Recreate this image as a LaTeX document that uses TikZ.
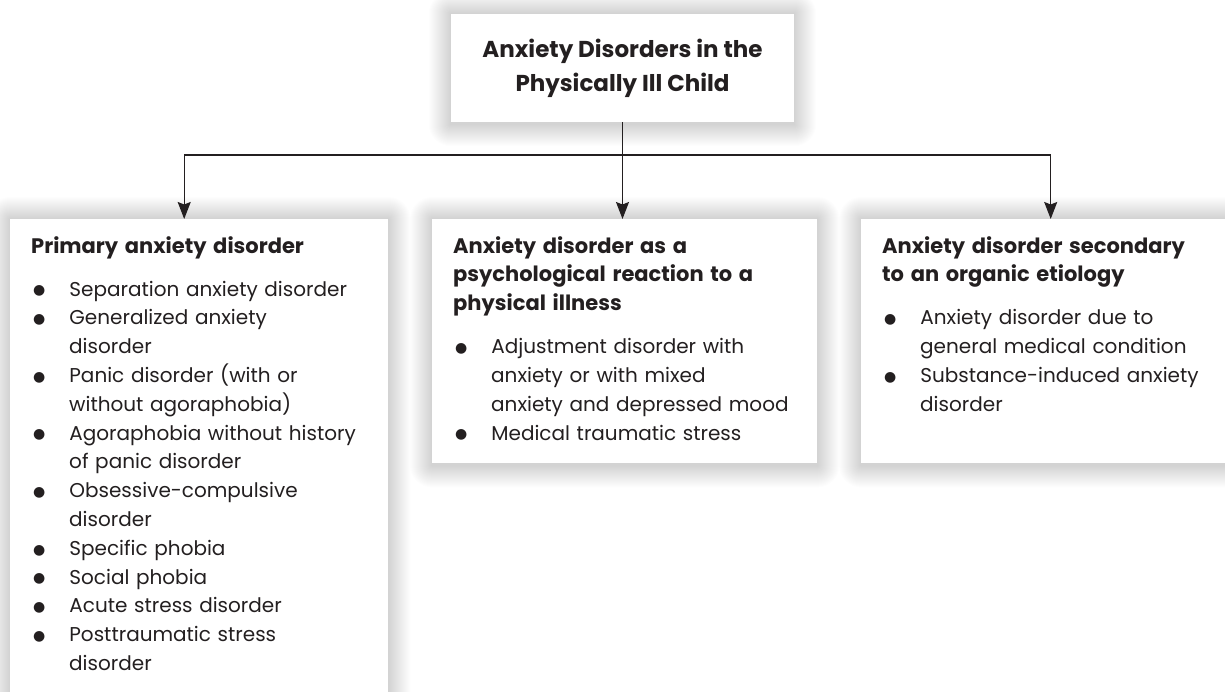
\documentclass[tikz,border=0pt]{standalone}
\usepackage{fontspec}
\setmainfont{Poppins}
\newfontfamily\dotfont{DejaVu Sans}
\usepackage{enumitem}
\usetikzlibrary{positioning,arrows.meta,calc}
\pgfdeclarelayer{background}
\pgfsetlayers{background,main}
\definecolor{ink}{HTML}{231F20}
\newcommand{\dotmark}{\raisebox{1.2pt}{\dotfont\fontsize{14}{14}\selectfont ●}}
\newcommand{\header}[1]{{\fontsize{21}{28.8}\selectfont\bfseries #1\par}}
\setlist[itemize]{label=\dotmark, leftmargin=38pt, rightmargin=-24pt, labelindent=2pt, labelwidth=12pt, labelsep=24pt, align=left, itemsep=0pt, parsep=0pt, topsep=14.2pt, partopsep=0pt}
\tikzstyle{connector} = [line width=1.3pt, draw=ink, -{Stealth[length=17pt,width=13pt,inset=2.5pt]}]
\tikzstyle{rail} = [line width=1.3pt, draw=ink]
\tikzstyle{panel} = [fill=white, text=ink, anchor=north west, align=left, inner xsep=21pt, inner ysep=0pt, text height=34pt, text depth=210pt, font=\fontsize{20}{28.8}\selectfont]
\tikzstyle{titlebox} = [fill=white, text=ink, align=center, minimum width=343pt, minimum height=108pt, inner sep=0pt, font=\fontsize{23}{34}\selectfont\bfseries]
% soft grey glow round a box
\newcommand{\glow}[1]{%
  \begin{pgfonlayer}{background}
    \foreach \g in {1,...,22}
      \fill[black, opacity=0.0095, rounded corners=\g pt]
        ($(#1.south west)+(-\g,-\g-2)$) rectangle ($(#1.north east)+(\g,\g)$);
  \end{pgfonlayer}}

\begin{document}
\begin{tikzpicture}[x=1pt,y=1pt]
  \useasboundingbox (0,0) rectangle (1225,-692);

  \node (title) [titlebox] at (622.5,-68) {Anxiety Disorders in the\\Physically Ill Child};

  \node (primary) [panel, text width=336pt, text depth=460pt] at (10,-219) {%
    \header{Primary anxiety disorder}
    \begin{itemize}
      \item Separation anxiety disorder
      \item Generalized anxiety\\disorder
      \item Panic disorder (with or\\without agoraphobia)
      \item Agoraphobia without history\\of panic disorder
      \item Obsessive-compulsive\\disorder
      \item Specific phobia
      \item Social phobia
      \item Acute stress disorder
      \item Posttraumatic stress\\disorder
    \end{itemize}};

  \node (reaction) [panel, text width=343pt] at (432,-219) {%
    \header{Anxiety disorder as a\\psychological reaction to a\\physical illness}
    \begin{itemize}
      \item Adjustment disorder with\\anxiety or with mixed\\anxiety and depressed mood
      \item Medical traumatic stress
    \end{itemize}};

  \node (organic) [panel, text width=337pt] at (861,-219) {%
    \header{Anxiety disorder secondary\\to an organic etiology}
    \begin{itemize}
      \item Anxiety disorder due to\\general medical condition
      \item Substance-induced anxiety\\disorder
    \end{itemize}};

  \glow{title}
  \glow{primary}
  \glow{reaction}
  \glow{organic}

  \coordinate (fork) at (622.5,-155);
  \draw [connector] (title.south) -- (title.south |- reaction.north);
  \draw [rail] ([xshift=-15pt]primary.north |- fork) -- (organic.north |- fork);
  \draw [connector] ([xshift=-15pt]primary.north |- fork) -- ([xshift=-15pt]primary.north);
  \draw [connector] (organic.north |- fork) -- (organic.north);
\end{tikzpicture}
\end{document}
